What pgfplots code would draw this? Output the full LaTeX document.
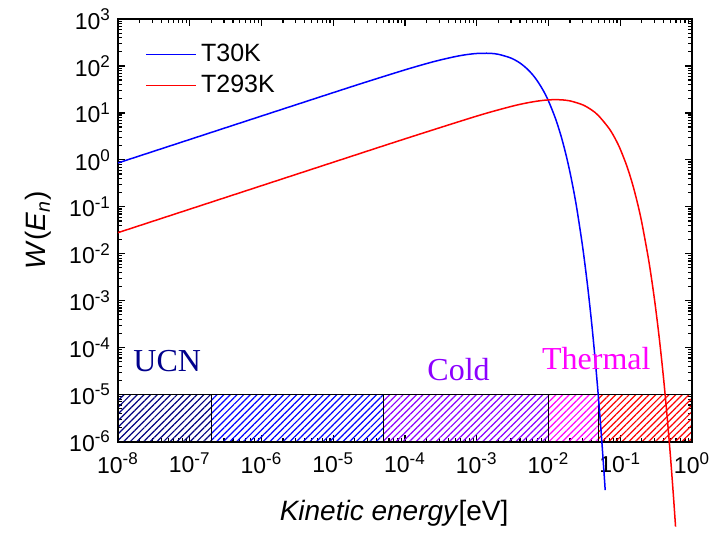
\documentclass[border=0pt]{standalone}
\usepackage{fontspec}
\setmainfont{Liberation Sans}
\newfontfamily\seriffont{Liberation Serif}
\usepackage{pgfplots}
\pgfplotsset{compat=1.18}
\usetikzlibrary{patterns.meta}

\definecolor{cold}{rgb}{0.55,0.0,1.0}
\definecolor{ucn}{rgb}{0.0,0.0,0.55}
\definecolor{hatchdark}{rgb}{0.0,0.0,0.5}
\definecolor{mag}{rgb}{1,0,1}
\definecolor{pblue}{rgb}{0,0,1}
\definecolor{pred}{rgb}{1,0,0}
\newcommand{\tl}[1]{10\textsuperscript{\fontsize{8.5}{9}\selectfont #1}}

\pgfplotstableread{
E W
1e-8 0.8585
1e-7 2.7146
1e-6 8.5813
1e-5 27.042
3e-5 46.48
1e-4 82.59
2e-4 112.37
3e-4 132.40
5e-4 158.20
7e-4 173.26
1e-3 184.38
1.5e-3 186.12
2e-3 177.10
3e-3 147.33
4e-3 115.55
5e-3 87.75
6e-3 65.287
7e-3 47.89
8.5e-3 29.545
1e-2 17.94
1.25e-2 7.6255
1.5e-2 3.175
1.75e-2 1.3042
2e-2 0.5301
2.25e-2 0.21379
2.5e-2 0.08568
3e-2 0.013568
3.5e-2 2.1184e-3
4e-2 3.2737e-4
4.5e-2 5.0195e-5
5e-2 7.648e-6
5.5e-2 1.1596e-6
6e-2 1.7509e-7
6.17e-2 9.195e-8
}\tableT

\pgfplotstableread{
E W
1e-8 0.028126
1e-7 0.088942
1e-6 0.28126
1e-5 0.88907
1e-4 2.8015
1e-3 8.5488
3e-3 13.680
5e-3 16.315
7.5e-3 18.098
1e-2 18.927
1.26e-2 19.167
1.5e-2 19.017
2e-2 18.013
3e-2 14.847
4e-2 11.537
5e-2 8.679
7e-2 4.6506
8.5e-2 2.8295
0.1 1.6943
0.125 0.70375
0.15 0.28640
0.175 0.11493
0.2 0.045644
0.25 7.0435e-3
0.3 1.0650e-3
0.35 1.5876e-4
0.4 2.3427e-5
0.45 3.4293e-6
0.5 4.9893e-7
0.55 7.2222e-8
0.59 1.5342e-8
}\tableH

\begin{document}
\begin{tikzpicture}
\begin{axis}[
  scale only axis, width=287pt, height=211.25pt,
  xmode=log, ymode=log,
  xmin=1e-8, xmax=1, ymin=1e-6, ymax=1e3,
  clip=false,
  axis line style={line width=1pt},
  tick style={black, line width=0.6pt},
  major tick length=3.5pt, minor tick length=2pt,
  tick align=inside, tick pos=both,
  xtick={1e-8,1e-7,1e-6,1e-5,1e-4,1e-3,1e-2,1e-1,1},
  minor xtick={2e-8,3e-8,4e-8,5e-8,6e-8,7e-8,8e-8,9e-8,
    2e-7,3e-7,4e-7,5e-7,6e-7,7e-7,8e-7,9e-7,
    2e-6,3e-6,4e-6,5e-6,6e-6,7e-6,8e-6,9e-6,
    2e-5,3e-5,4e-5,5e-5,6e-5,7e-5,8e-5,9e-5,
    2e-4,3e-4,4e-4,5e-4,6e-4,7e-4,8e-4,9e-4,
    2e-3,3e-3,4e-3,5e-3,6e-3,7e-3,8e-3,9e-3,
    2e-2,3e-2,4e-2,5e-2,6e-2,7e-2,8e-2,9e-2,
    0.2,0.3,0.4,0.5,0.6,0.7,0.8,0.9},
  xticklabels={\tl{-8},\tl{-7},\tl{-6},\tl{-5},\tl{-4},\tl{-3},\tl{-2},\tl{-1},\tl{0}},
  ytick={1e-6,1e-5,1e-4,1e-3,1e-2,1e-1,1,1e1,1e2,1e3},
  minor ytick={2e-6,3e-6,4e-6,5e-6,6e-6,7e-6,8e-6,9e-6,
    2e-5,3e-5,4e-5,5e-5,6e-5,7e-5,8e-5,9e-5,
    2e-4,3e-4,4e-4,5e-4,6e-4,7e-4,8e-4,9e-4,
    2e-3,3e-3,4e-3,5e-3,6e-3,7e-3,8e-3,9e-3,
    2e-2,3e-2,4e-2,5e-2,6e-2,7e-2,8e-2,9e-2,
    0.2,0.3,0.4,0.5,0.6,0.7,0.8,0.9,
    2,3,4,5,6,7,8,9,
    20,30,40,50,60,70,80,90,
    200,300,400,500,600,700,800,900},
  yticklabels={\tl{-6},\tl{-5},\tl{-4},\tl{-3},\tl{-2},\tl{-1},\tl{0},\tl{1},\tl{2},\tl{3}},
  ticklabel style={font=\fontsize{11.5}{12}\selectfont},
  xticklabel style={yshift=-2pt},
  xlabel={\textit{Kinetic energy}[eV]},
  xlabel style={font=\fontsize{14}{16}\selectfont, at={(axis description cs:0.481,-0.186)}, anchor=base},
  ylabel={\textit{W}(\textit{E}\textsubscript{\textit{n}})},
  ylabel style={font=\fontsize{14}{16}\selectfont, at={(axis description cs:-0.139,0.5)}, anchor=center},
  legend style={at={(axis description cs:0.037,0.96)}, anchor=north west, draw=none, fill=none,
    font=\fontsize{12.5}{14}\selectfont, legend cell align=left, row sep=1.2pt},
  legend image code/.code={\draw[#1] (0pt,0pt) -- (25pt,0pt);},
]
\coordinate (sw) at (rel axis cs:0,0);
\addplot[forget plot, draw=black, line width=0.8pt, pattern={Lines[angle=45,distance=2.35pt,line width=0.6pt]}, pattern color=hatchdark] coordinates {(1e-8,1e-6) (2e-7,1e-6) (2e-7,1e-5) (1e-8,1e-5)} -- cycle;
\addplot[forget plot, draw=black, line width=0.8pt, pattern={Lines[angle=45,distance=2.35pt,line width=0.6pt]}, pattern color=pblue] coordinates {(2e-7,1e-6) (5e-5,1e-6) (5e-5,1e-5) (2e-7,1e-5)} -- cycle;
\addplot[forget plot, draw=black, line width=0.8pt, pattern={Lines[angle=45,distance=2.35pt,line width=0.6pt]}, pattern color=cold] coordinates {(5e-5,1e-6) (1e-2,1e-6) (1e-2,1e-5) (5e-5,1e-5)} -- cycle;
\addplot[forget plot, draw=black, line width=0.8pt, pattern={Lines[angle=45,distance=2.35pt,line width=0.6pt]}, pattern color=mag] coordinates {(1e-2,1e-6) (5e-2,1e-6) (5e-2,1e-5) (1e-2,1e-5)} -- cycle;
\addplot[forget plot, draw=black, line width=0.8pt, pattern={Lines[angle=45,distance=2.35pt,line width=0.6pt]}, pattern color=pred] coordinates {(5e-2,1e-6) (1,1e-6) (1,1e-5) (5e-2,1e-5)} -- cycle;
\addplot[pblue, line width=0.75pt, smooth] table[x=E, y=W] {\tableT};
\addlegendentry{T30K}
\addplot[pred, line width=0.75pt, smooth] table[x=E, y=W] {\tableH};
\addlegendentry{T293K}
\node[anchor=base west, inner sep=0, font=\seriffont\fontsize{16}{18}\selectfont, text=ucn] at (axis cs:1.62e-8,3.06e-5) {UCN};
\node[anchor=base west, inner sep=0, font=\seriffont\fontsize{16}{18}\selectfont, text=cold] at (axis cs:2.03e-4,2.04e-5) {Cold};
\node[anchor=base west, inner sep=0, font=\seriffont\fontsize{16}{18}\selectfont, text=mag] at (axis cs:8.04e-3,3.5e-5) {Thermal};
\end{axis}
\pgfresetboundingbox
\path (sw) ++(-59pt,-45.25pt) rectangle ++(361pt,266pt);
\end{tikzpicture}
\end{document}
